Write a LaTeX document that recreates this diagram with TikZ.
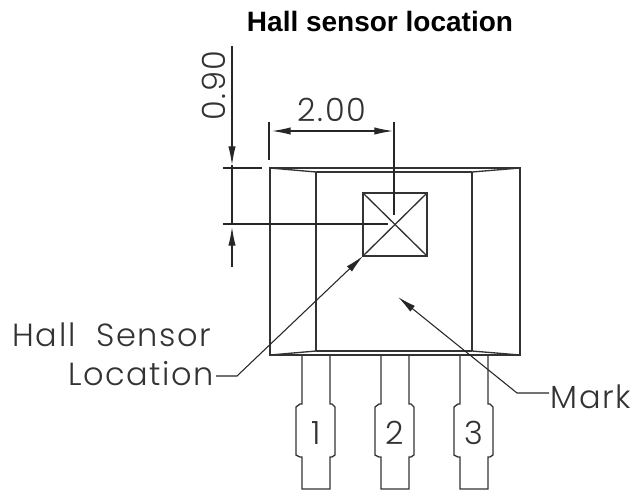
\documentclass[tikz,border=0pt]{standalone}
\usepackage{fontspec}
\setmainfont{Liberation Sans}
\newfontfamily\cadfont[LetterSpace=5]{Poppins Light}
\usepackage{xcolor}
\usepackage{tikz}
\usetikzlibrary{arrows.meta, positioning, shapes}
\tikzset{
  part/.style={line width=1pt, draw=black!80},
  dimline/.style={line width=0.8pt, draw=black!85},
  dimarrow/.style={dimline, -{Latex[length=14pt, width=5.5pt]}},
  cadtext/.style={font=\cadfont\fontsize{24}{26}\selectfont, text=black!80, inner sep=0pt}
}

\begin{document}
\begin{tikzpicture}[x=0.75pt, y=-0.75pt]
    \useasboundingbox (0,0) rectangle (640,490);

    % Title
    \node[font=\bfseries\fontsize{21}{24}\selectfont, inner sep=0pt] (title) at (380,21.5) {Hall sensor location};

    % Draw the package body
    \draw[part] (270,168) rectangle (520,355);
    \draw[part] (316,172) -- (472,172);
    \draw[part] (316,351) -- (472,351);
    \draw[part] (316,172) -- (316,351);
    \draw[part] (472,172) -- (472,351);
    \draw[part] (270,168) -- (316,172);
    \draw[part] (520,168) -- (472,172);
    \draw[part] (270,355) -- (316,351);
    \draw[part] (520,355) -- (472,351);

    % Draw the sensor square
    \draw[part] (363,193) rectangle (427,256);
    \draw[part] (363,193) -- (427,256);
    \draw[part] (427,193) -- (363,256);

    % Draw the three leads
    \foreach \x/\n in {316/1, 395/2, 474/3} {
      \draw[part] (\x-14,355) -- (\x-14,404) -- (\x-16,404) -- (\x-20,407) -- (\x-20,455) -- (\x-16,457) -- (\x-14,457) -- (\x-14,489)
        -- (\x+14,489) -- (\x+14,457) -- (\x+16,457) -- (\x+19,455) -- (\x+19,407) -- (\x+16,404) -- (\x+14,404) -- (\x+14,355);
      \node[cadtext] (pin\n) at (\x,433) {\n};
    }

    % Coordinates of the dimensions
    \coordinate (vtop) at (232,46);
    \coordinate (vupper) at (232,165);
    \coordinate (vcross) at (232,224);
    \coordinate (vlower) at (232,227);
    \coordinate (vend) at (232,267);
    \coordinate (hleft) at (272,131);
    \coordinate (hright) at (393,131);

    % Dimension 0.90
    \draw[dimline] (223,168) -- (262,168);
    \draw[dimline] (223,224) -- (388,224);
    \draw[dimarrow] (vtop) -- (vupper);
    \draw[dimline] (vupper) -- (vcross);
    \draw[dimarrow] (vend) -- (vlower);
    \node[cadtext, rotate=90] (dimv) at (213.5,85.5) {0.90};

    % Dimension 2.00
    \draw[dimline] (269,122) -- (269,160);
    \draw[dimline] (394,122) -- (394,215);
    \draw[dimarrow, {Latex[length=14pt, width=5.5pt]}-{Latex[length=14pt, width=5.5pt]}] (hleft) -- (hright);
    \node[cadtext] (dimh) at (332,110) {2.00};

    % Labels with leaders
    \node[cadtext] (hall) at (112,335) {Hall\hspace{8pt} Sensor};
    \node[cadtext] (loc) at (141,374) {Location};
    \node[cadtext] (mark) at (591,397) {Mark};
    \coordinate (locend) at (216,376);
    \coordinate (markend) at (549,393);
    \coordinate (halltip) at (363,256);
    \coordinate (marktip) at (398,297);
    \draw[dimarrow] (locend) -- (237,376) -- (halltip);
    \draw[dimarrow] (markend) -- (517,393) -- (marktip);
\end{tikzpicture}
\end{document}
